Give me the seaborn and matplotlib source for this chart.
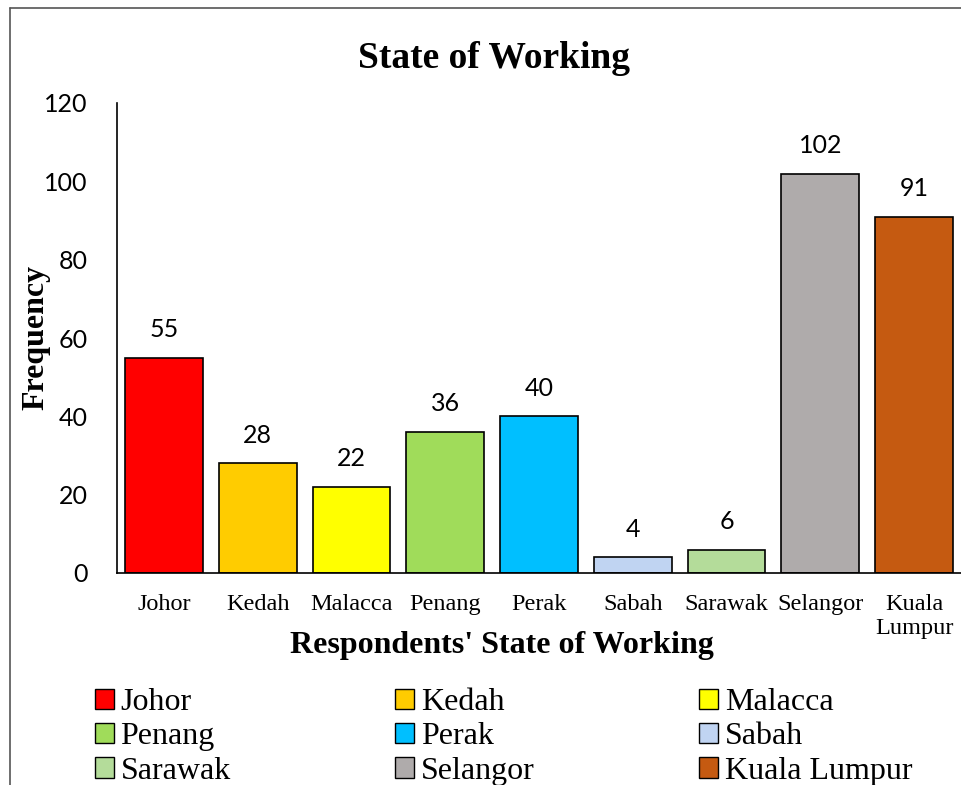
import matplotlib
matplotlib.use("Agg")
import matplotlib.pyplot as plt
import seaborn as sns
import pandas as pd
from matplotlib.patches import Patch
from matplotlib.lines import Line2D

states = ["Johor", "Kedah", "Malacca", "Penang", "Perak", "Sabah", "Sarawak", "Selangor", "Kuala Lumpur"]
tick_labels = ["Johor", "Kedah", "Malacca", "Penang", "Perak", "Sabah", "Sarawak", "Selangor", "Kuala\nLumpur"]
frequency = [55, 28, 22, 36, 40, 4, 6, 102, 91]
colors = ["#FF0000", "#FFCC00", "#FFFF00", "#A0DC5A", "#00BFFF", "#C0D4F2", "#B4DC9A", "#AFABAB", "#C55A11"]
yticks = [0, 20, 40, 60, 80, 100, 120]

df = pd.DataFrame({"state": states, "freq": frequency})

sns.set_theme(style="white")
serif = ["Liberation Serif", "DejaVu Serif"]
sansnum = ["Lato", "DejaVu Sans"]

fig = plt.figure(figsize=(9.61, 7.85), dpi=100)
ax = fig.add_axes([117/961, 1 - 573/785, (961 - 117)/961, (573 - 103)/785])

sns.barplot(data=df, x="state", y="freq", hue="state", palette=colors, legend=False,
            order=states, hue_order=states, width=0.83, edgecolor="black", linewidth=1.2,
            saturation=1, ax=ax)

ax.set_xlim(-0.5, 8.5)
ax.set_ylim(0, 120)
ax.set_yticks(yticks)
ax.set_yticklabels([str(v) for v in yticks], family=sansnum, fontsize=18)
ax.set_xticks(range(len(states)))
ax.set_xticklabels(tick_labels, family=serif, fontsize=17.5, linespacing=1.2)
ax.tick_params(axis="both", direction="out", length=7, width=1.2, color="black", colors="black")
ax.tick_params(axis="x", pad=8)
ax.tick_params(axis="y", pad=14)
for s in ["top", "right"]:
    ax.spines[s].set_visible(False)
for s in ["left", "bottom"]:
    ax.spines[s].set_color("black")
    ax.spines[s].set_linewidth(1.2)

for i, v in enumerate(frequency):
    ax.annotate(str(v), (i, v), xytext=(0, 12), textcoords="offset points",
                ha="center", va="bottom", family=sansnum, fontsize=18, color="black")

ax.set_xlabel("")
ax.set_ylabel("")
fig.text(502/961, 1 - 645/785, "Respondents' State of Working", family=serif, fontsize=23,
         fontweight="bold", ha="center", va="center", color="black")
fig.text(36/961, 1 - 337/785, "Frequency", family=serif, fontsize=23, fontweight="bold",
         ha="center", va="center", rotation=90, color="black")

fig.text(494/961, 1 - 59/785, "State of Working", family=serif, fontsize=27, fontweight="bold",
         ha="center", va="center", color="black")

handles = [Patch(facecolor=c, edgecolor="black", linewidth=1.0, label=s) for s, c in zip(states, colors)]
order = [0, 3, 6, 1, 4, 7, 2, 5, 8]
leg = fig.legend([handles[i] for i in order], [states[i] for i in order], ncol=3,
                 loc="upper left", bbox_to_anchor=(95/961, 1 - 688/785), frameon=False,
                 prop={"family": serif, "size": 23}, handlelength=0.6, handleheight=0.6,
                 handletextpad=0.2, columnspacing=5.15, labelspacing=0.17, borderpad=0,
                 borderaxespad=0)
for t in leg.get_texts():
    t.set_color("black")

fig.add_artist(Line2D([10/961, 10/961], [0, 1 - 8/785], transform=fig.transFigure, color="#555555", linewidth=1.2))
fig.add_artist(Line2D([10/961, 1], [1 - 8/785, 1 - 8/785], transform=fig.transFigure, color="#555555", linewidth=1.2))

fig.savefig("out.png", dpi=100)
